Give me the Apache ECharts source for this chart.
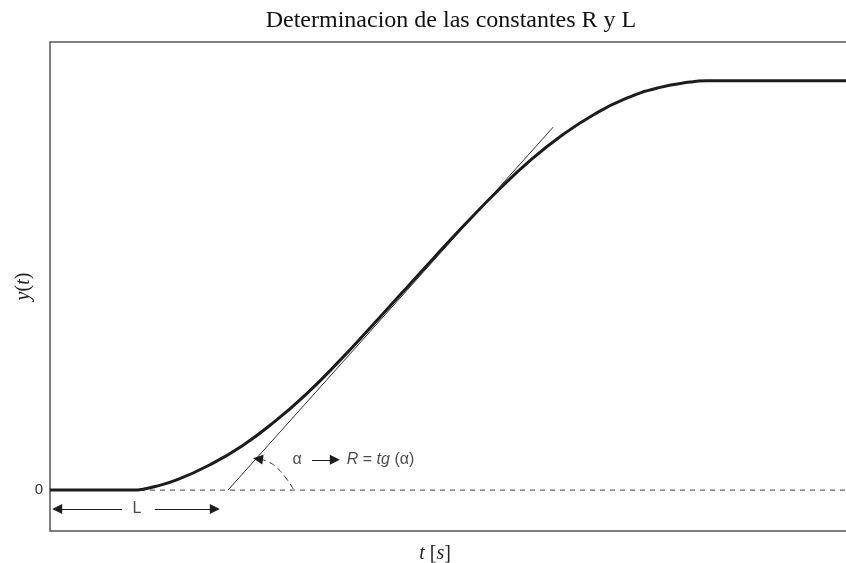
<!DOCTYPE html>
<html>
<head>
<meta charset="utf-8">
<script src="https://cdn.jsdelivr.net/npm/echarts@6/dist/echarts.min.js"></script>
<style>
  html, body { margin: 0; padding: 0; background: #fff; }
  #chart { width: 846px; height: 563px; }
</style>
</head>
<body>
<div id="chart"></div>
<script>
// respuesta al escalon
const curveT = [0, 1.06, 1.16, 1.3, 1.6, 2.0, 2.4, 2.8, 3.2, 3.6, 4.0, 4.4, 4.8, 5.2, 5.6, 6.0, 6.4, 6.8, 7.2, 7.6, 8.0, 8.2, 10]
const curveY = [0, 0, 0.002, 0.008, 0.026, 0.062, 0.108, 0.166, 0.234, 0.312, 0.396, 0.482, 0.568, 0.652, 0.732, 0.805, 0.867, 0.918, 0.957, 0.983, 0.997, 1.0, 1.0]

// recta tangente en el punto de inflexion
const tangentT = [2.225, 6.29]
const tangentY = [0, 0.887]

// arco del angulo alfa
const arcT = [3.04, 2.94, 2.84, 2.73, 2.64]
const arcY = [0.003, 0.032, 0.054, 0.069, 0.075]

const yTickLabels = ['0']

const chart = echarts.init(document.getElementById('chart'))

const zip = (a, b) => a.map((v, i) => [v, b[i]])
const ink = '#1c1c1c'

chart.setOption({
  animation: false,
  backgroundColor: '#fff',
  title: {
    text: 'Determinacion de las constantes R y L',
    left: 446,
    textAlign: 'center',
    top: 4,
    textStyle: {
      fontFamily: 'Liberation Serif',
      fontSize: 24,
      fontWeight: 'normal',
      color: '#111'
    }
  },
  grid: {
    left: 50,
    right: -4,
    top: 42,
    bottom: 32,
    outerBoundsMode: 'none',
    containLabel: false,
    show: true,
    borderColor: '#555',
    borderWidth: 1.5
  },
  xAxis: {
    type: 'value',
    min: 0,
    max: 10,
    name: '{i|t} [{i|s}]',
    nameLocation: 'middle',
    nameGap: 13,
    nameMoveOverlap: false,
    nameTextStyle: {
      fontFamily: 'Liberation Serif',
      fontSize: 20,
      color: '#222',
      padding: [0, 30, 0, 0],
      rich: { i: { fontStyle: 'italic', fontFamily: 'Liberation Serif', fontSize: 20, color: '#222' } }
    },
    axisLine: { show: false },
    axisTick: { show: false },
    axisLabel: { show: false },
    splitLine: { show: false }
  },
  yAxis: {
    type: 'value',
    min: -0.1,
    max: 1.095,
    interval: 0.1,
    name: '{i|y}({i|t})',
    nameLocation: 'middle',
    nameGap: 16,
    nameMoveOverlap: false,
    nameTextStyle: {
      fontFamily: 'Liberation Serif',
      fontSize: 20,
      color: '#222',
      rich: { i: { fontStyle: 'italic', fontFamily: 'Liberation Serif', fontSize: 20, color: '#222' } }
    },
    axisLine: { show: false },
    axisTick: { show: false },
    splitLine: { show: false },
    axisLabel: {
      margin: 7,
      fontFamily: 'Liberation Sans',
      fontSize: 15,
      color: '#333',
      formatter: v => (Math.abs(v) < 1e-9 ? yTickLabels[0] : '')
    }
  },
  series: [
    {
      name: 'cero',
      type: 'line',
      symbol: 'none',
      silent: true,
      data: [[0, 0], [10, 0]],
      lineStyle: { color: '#444', width: 1, type: [5, 5] }
    },
    {
      name: 'tangente',
      type: 'line',
      symbol: 'none',
      silent: true,
      data: zip(tangentT, tangentY),
      lineStyle: { color: '#333', width: 1 }
    },
    {
      name: 'arco',
      type: 'line',
      symbol: 'none',
      silent: true,
      smooth: 0.5,
      data: zip(arcT, arcY),
      lineStyle: { color: '#333', width: 1, type: [6, 4] },
      markLine: {
        silent: true,
        symbol: ['none', 'triangle'],
        symbolSize: 10,
        label: { show: false },
        lineStyle: { color: ink, width: 1, type: 'solid' },
        data: [
          // punta de flecha del arco
          [{ coord: [2.64, 0.075] }, { coord: [2.6, 0.076] }],
          // flecha alfa -> R
          [{ coord: [3.275, 0.074] }, { coord: [3.56, 0.074] }],
          // flechas de L
          [{ coord: [0.9, -0.046] }, { coord: [0.09, -0.046] }],
          [{ coord: [1.31, -0.046] }, { coord: [2.06, -0.046] }]
        ]
      }
    },
    {
      name: 'y(t)',
      type: 'line',
      symbol: 'none',
      smooth: 0.5,
      data: zip(curveT, curveY),
      lineStyle: { color: ink, width: 3 }
    },
    {
      name: 'textos',
      type: 'scatter',
      symbolSize: 0,
      silent: true,
      data: [
        {
          value: [1.0875, -0.046],
          label: { show: true, position: [0, 0], align: 'center', verticalAlign: 'middle', formatter: 'L' }
        },
        {
          value: [3.09, 0.074],
          label: { show: true, position: [0, 0], align: 'center', verticalAlign: 'middle', formatter: 'α' }
        },
        {
          value: [3.71, 0.074],
          label: {
            show: true,
            position: [0, 0],
            align: 'left',
            verticalAlign: 'middle',
            formatter: '{i|R} = {i|tg} (α)',
            rich: { i: { fontStyle: 'italic', fontFamily: 'Liberation Sans', fontSize: 16, color: ink } }
          }
        }
      ],
      label: {
        fontFamily: 'Liberation Sans',
        fontSize: 16,
        color: ink
      }
    }
  ]
})
</script>
</body>
</html>
